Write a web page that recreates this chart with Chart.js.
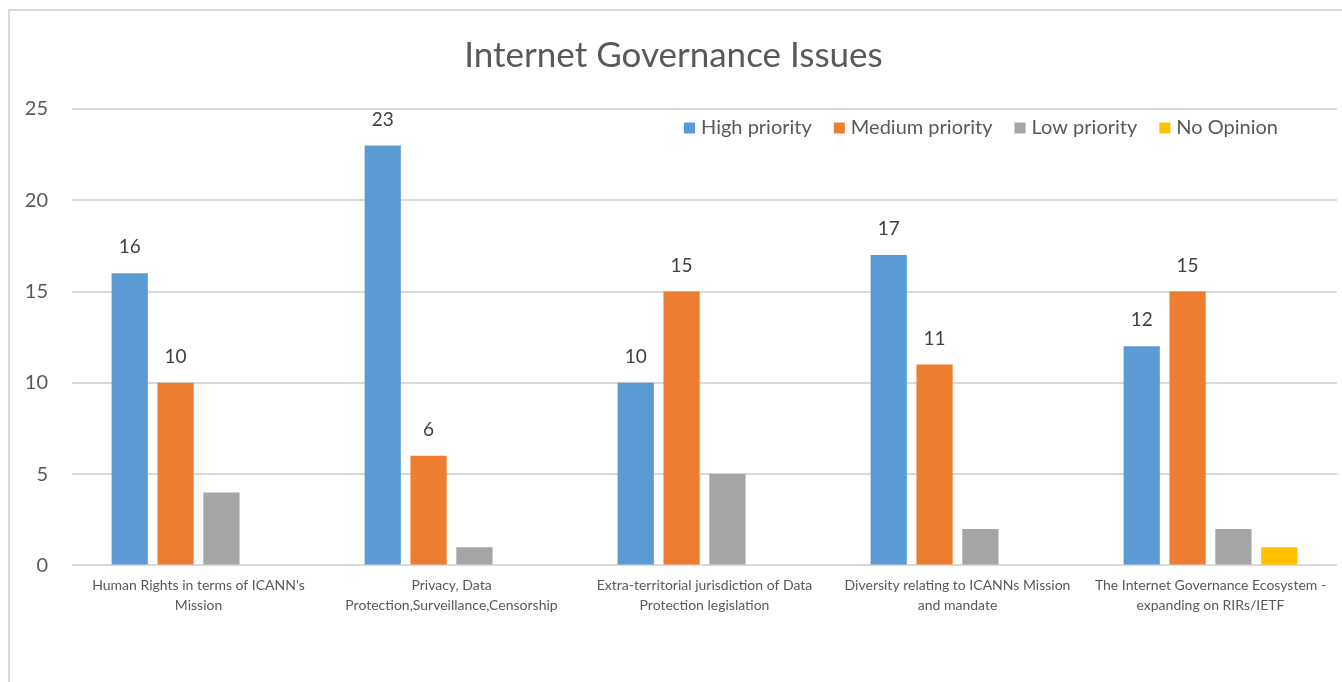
<!DOCTYPE html>
<html>
<head>
<meta charset="utf-8">
<script src="https://cdn.jsdelivr.net/npm/chart.js@4"></script>
<style>
  html, body { margin: 0; padding: 0; background: #fff; overflow: hidden; }
  #wrap {
    position: absolute; left: 8px; top: 9px;
    width: 1400px; height: 700px;
    border: 2px solid #d9d9d9; background: #fff;
  }
  canvas { display: block; }
</style>
</head>
<body>
<div id="wrap"><canvas id="chart" width="1332" height="671"></canvas></div>
<script>
// chart data
const categories = [
  ["Human Rights in terms of ICANN's", "Mission"],
  ["Privacy, Data", "Protection,Surveillance,Censorship"],
  ["Extra-territorial jurisdiction of Data", "Protection legislation"],
  ["Diversity relating to ICANNs Mission", "and mandate"],
  ["The Internet Governance Ecosystem -", "expanding on RIRs/IETF"]
];
const highPriority   = [16, 23, 10, 17, 12];
const mediumPriority = [10, 6, 15, 11, 15];
const lowPriority    = [4, 1, 5, 2, 2];
const noOpinion      = [0, 0, 0, 0, 1];
const yTicks = [0, 5, 10, 15, 20, 25];

const FONT = 'Lato, "Open Sans", sans-serif';

// value labels above the high / medium bars only
const valueLabels = {
  id: 'valueLabels',
  afterDatasetsDraw(chart) {
    const ctx = chart.ctx;
    ctx.save();
    ctx.font = '19px ' + FONT;
    ctx.fillStyle = '#404040';
    ctx.textAlign = 'center';
    ctx.textBaseline = 'middle';
    [0, 1].forEach(di => {
      const meta = chart.getDatasetMeta(di);
      meta.data.forEach((bar, i) => {
        ctx.fillText(chart.data.datasets[di].data[i], bar.x, bar.y - 26);
      });
    });
    ctx.restore();
  }
};

// horizontal legend inside the plot, top right
const insideLegend = {
  id: 'insideLegend',
  afterDraw(chart) {
    const ctx = chart.ctx;
    const area = chart.chartArea;
    const sets = chart.data.datasets;
    ctx.save();
    ctx.font = '20px ' + FONT;
    ctx.textBaseline = 'middle';
    const box = 11, gap = 6, spacing = 22;
    const widths = sets.map(d => box + gap + ctx.measureText(d.label).width);
    const total = widths.reduce((a, b) => a + b, 0) + spacing * (sets.length - 1);
    let x = area.right - 59 - total;
    const y = area.top + 19;
    sets.forEach((d, i) => {
      ctx.fillStyle = d.backgroundColor;
      ctx.fillRect(x, y - box / 2, box, box);
      ctx.fillStyle = '#595959';
      ctx.fillText(d.label, x + box + gap, y);
      x += widths[i] + spacing;
    });
    ctx.restore();
  }
};

new Chart(document.getElementById('chart').getContext('2d'), {
  type: 'bar',
  data: {
    labels: categories,
    datasets: [
      { label: 'High priority',   data: highPriority,   backgroundColor: '#5b9bd5' },
      { label: 'Medium priority', data: mediumPriority, backgroundColor: '#ed7d31' },
      { label: 'Low priority',    data: lowPriority,    backgroundColor: '#a5a5a5' },
      { label: 'No Opinion',      data: noOpinion,      backgroundColor: '#ffc000' }
    ]
  },
  options: {
    responsive: false,
    animation: false,
    categoryPercentage: 0.725,
    barPercentage: 0.79,
    layout: { padding: { left: 0, right: 5, top: 0, bottom: 64 } },
    plugins: {
      title: {
        display: true,
        text: 'Internet Governance Issues',
        color: '#595959',
        font: { family: FONT, size: 35, weight: 'normal' },
        padding: { top: 24, bottom: 32 }
      },
      legend: { display: false },
      tooltip: { enabled: false }
    },
    scales: {
      x: {
        grid: { display: false },
        border: { display: false },
        ticks: {
          color: '#595959',
          font: { family: FONT, size: 14, lineHeight: 1.45 },
          padding: 2,
          maxRotation: 0,
          autoSkip: false
        }
      },
      y: {
        min: 0,
        max: 25,
        afterFit: s => { s.width = 62; },
        afterBuildTicks: s => { s.ticks = yTicks.map(v => ({ value: v })); },
        grid: { color: '#d9d9d9', lineWidth: 2, drawTicks: false },
        border: { display: false },
        ticks: {
          color: '#595959',
          font: { family: FONT, size: 20 },
          padding: 24
        }
      }
    }
  },
  plugins: [valueLabels, insideLegend]
});
</script>
</body>
</html>
